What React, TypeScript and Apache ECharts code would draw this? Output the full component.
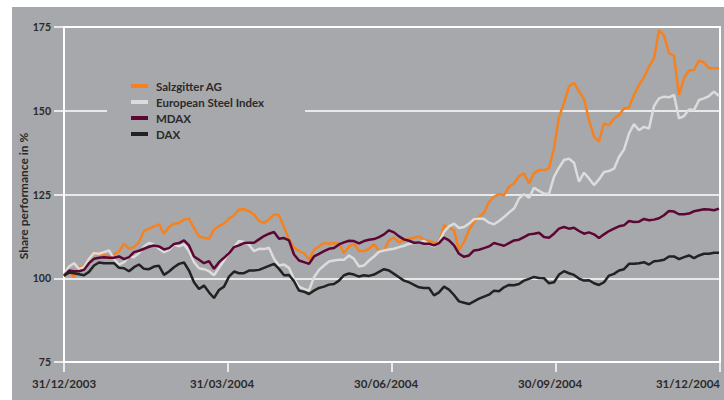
import React, { useEffect, useRef } from "react";
import * as echarts from "echarts";

const seriesNames = ["Salzgitter AG", "European Steel Index", "MDAX", "DAX"];
const tickLabels = ["31/12/2003", "31/03/2004", "30/06/2004", "30/09/2004", "31/12/2004"];
const yTitle = "Share performance in %";

const salzgitter = [
  100.5, 102.3, 100.3, 103.5, 103, 105.8, 107.3, 107.3, 106.9, 106.5,
  107.1, 108, 110.3, 108.8, 109.3, 110.8, 114.1, 114.8, 115.5, 116.1,
  113.3, 115.3, 116.3, 116.5, 117.5, 117.8, 115, 112.5, 112.1, 111.8,
  114.5, 115.6, 116.3, 117.8, 118.8, 120.5, 120.6, 120, 119, 117.1,
  116.5, 117.5, 119.1, 118.8, 115.3, 111.5, 109.1, 108.1, 107.5, 105.5,
  108.5, 109.5, 110.5, 110.3, 110.5, 110.3, 107.5, 109.5, 110.3, 108.1,
  108.1, 108.8, 110.1, 108.3, 108.3, 111.3, 112.1, 110.8, 111.3, 111.8,
  112.1, 112.5, 111.5, 111.1, 110.7, 110.5, 115.8, 115.1, 114.3, 108.5,
  110.8, 114.4, 116.8, 118.3, 119.5, 122.8, 124.3, 125.1, 124.8, 127.3,
  128.3, 130.5, 131.3, 128.3, 131.3, 132.3, 132.3, 132.8, 138.8, 148.1,
  152.3, 157.3, 158.3, 155.8, 153.5, 147.3, 142.3, 140.8, 146.2, 145.7,
  147.7, 148.7, 150.7, 151, 154.7, 157.7, 160, 163.2, 165.7, 174,
  172.5, 167.2, 166.4, 154.7, 159.7, 162, 162.2, 165, 164.4, 162.7,
  162.7, 162.7,
];

const steelIndex = [
  101, 103.5, 104.5, 102.8, 103.3, 105.8, 107.5, 107.3, 107.8, 108.3,
  105.8, 104.1, 104.8, 106.5, 106.3, 107.5, 109.5, 110.5, 110.1, 108.8,
  107.8, 108.5, 110.1, 109.5, 110.1, 108.1, 104.8, 103, 102.7, 102.1,
  100.9, 103.1, 105.3, 107.8, 109.3, 111.1, 110.8, 110, 108.1, 108.8,
  108.7, 109.1, 105.8, 103.8, 104.1, 103.1, 99.8, 97.5, 96.8, 96.3,
  100.3, 102.5, 103.8, 105, 105.3, 105.5, 105.5, 106.8, 105.8, 103.5,
  103.8, 105.3, 106.5, 107.9, 108.3, 108.6, 108.8, 109.3, 109.7, 110.3,
  110.5, 110.7, 111.1, 110.1, 109.5, 110.8, 113.8, 115.5, 116.3, 115,
  115.3, 116.3, 117.6, 117.8, 117.7, 116.6, 116.1, 117.1, 118.3, 119.6,
  120.8, 123.8, 125.1, 124, 127, 126.1, 125.3, 125.2, 130.3, 133,
  135.3, 135.7, 134.5, 128.8, 131.5, 129.8, 127.8, 129.5, 131.7, 132,
  132.7, 136.2, 138.4, 143.2, 146, 144.2, 145.2, 144.7, 151.4, 153.7,
  154.2, 154, 154.7, 147.7, 148.4, 150.4, 150.2, 153.2, 153.7, 154.4,
  155.7, 154.4,
];

const mdax = [
  100.8, 102.3, 102.1, 102.1, 102.5, 104.5, 105.8, 106.1, 106.3, 106.1,
  106.1, 106.5, 105.7, 106.3, 107.8, 108.2, 108.8, 109.4, 109.8, 109.5,
  108.6, 109, 110.2, 110.5, 111.3, 109.8, 106.5, 105.5, 104.5, 105.1,
  102.8, 104.8, 106.1, 107.5, 109.3, 109.8, 110.5, 110.6, 110.6, 111.6,
  112.6, 113.3, 113.8, 111.8, 112, 111.3, 107.1, 105.3, 104.8, 104.3,
  106.5, 107.3, 108.1, 108.8, 109, 110.1, 110.7, 111.2, 111.1, 110.4,
  111.1, 111.5, 111.7, 112.3, 113.1, 114.3, 113.7, 112.5, 111.6, 111.2,
  110.6, 110.7, 110.3, 110.3, 109.8, 110.5, 112.1, 111.3, 109.8, 107.3,
  106.4, 106.8, 108.3, 108.5, 109, 109.5, 110.5, 110.1, 109.7, 110.5,
  111.3, 111.5, 112.3, 113.1, 113.3, 113.6, 112.3, 112.1, 113.3, 114.8,
  115.3, 114.8, 115.1, 114.1, 113.3, 113.7, 113.1, 112, 113.1, 114.1,
  114.8, 115.5, 115.8, 117.1, 116.8, 116.9, 117.7, 117.3, 117.5, 117.9,
  118.8, 120.1, 119.9, 119.1, 119.1, 119.3, 120, 120.3, 120.6, 120.5,
  120.3, 120.8,
];

const dax = [
  100.8, 101.7, 101.5, 101.2, 100.9, 101.9, 103.8, 104.7, 104.5, 104.5,
  104.5, 103.1, 103, 102.1, 103.3, 104.1, 102.8, 102.7, 103.5, 103.7,
  101, 102, 103.3, 104.3, 104.7, 102.3, 98.8, 96.8, 97.8, 95.8,
  94.1, 96.5, 97.5, 100.5, 102, 101.5, 101.5, 102.3, 102.3, 102.5,
  103.1, 103.7, 104.3, 102.8, 100.9, 101, 99.1, 96.3, 96, 95.3,
  96.3, 97.1, 97.5, 98.1, 98.3, 99.3, 100.9, 101.4, 101.1, 100.5,
  100.9, 100.7, 101.1, 101.9, 102.7, 102.3, 101.3, 100.3, 99.3, 98.8,
  98, 97.3, 97.1, 97.1, 94.9, 95.8, 97.5, 96.6, 95, 93.1,
  92.7, 92.3, 93.1, 93.9, 94.5, 95.1, 96.3, 96.1, 97.3, 98,
  97.9, 98.3, 99.3, 99.8, 100.4, 100.1, 100, 98.5, 98.8, 101.1,
  102.1, 101.5, 101, 99.9, 99.3, 99.4, 98.5, 98, 98.8, 100.8,
  101.3, 102.3, 102.7, 104.3, 104.3, 104.5, 104.8, 104.1, 105.1, 105.2,
  105.5, 106.5, 106.5, 105.7, 106.3, 106.8, 106, 106.8, 107.3, 107.3,
  107.6, 107.6,
];

const seriesData = [salzgitter, steelIndex, mdax, dax];
const colors = ["#f5821f", "#dcdcdc", "#5c0634", "#222222"];

const FONT = "Lato";
const TEXT = "#2a2a2a";
const BG = "#a7a8ab";

export default function App() {
  const ref = useRef<HTMLDivElement>(null);
  useEffect(() => {
    if (!ref.current) return;
    const chart = echarts.init(ref.current, null, { renderer: "svg" });
    const xMax = 131.2;
    const step = xMax / (tickLabels.length - 1);
    chart.setOption({
      animation: false,
      backgroundColor: "#ffffff",
      graphic: [
        {
          type: "rect",
          z: -10,
          silent: true,
          shape: { x: 12, y: 7, width: 712, height: 393 },
          style: { fill: BG },
        },
        {
          type: "text",
          silent: true,
          x: 23,
          y: 196,
          rotation: Math.PI / 2,
          style: {
            text: yTitle,
            fontFamily: FONT,
            fontWeight: "bold",
            fontSize: 12,
            fill: TEXT,
            align: "center",
            verticalAlign: "middle",
          },
        },
      ],
      legend: {
        orient: "vertical",
        left: 107,
        top: 69,
        padding: [10, 41, 10, 24],
        backgroundColor: BG,
        itemGap: 2,
        itemWidth: 17,
        itemHeight: 4,
        icon: "rect",
        data: seriesNames,
        textStyle: {
          fontFamily: FONT,
          fontWeight: "bold",
          fontSize: 11.5,
          color: TEXT,
          lineHeight: 14,
          padding: [0, 0, 0, 3],
        },
      },
      grid: {
        left: 64,
        right: 4,
        top: 27,
        bottom: 38,
        show: true,
        borderColor: "#ffffff",
        borderWidth: 2,
        backgroundColor: "transparent",
      },
      xAxis: {
        type: "value",
        min: 0,
        max: xMax,
        interval: step,
        axisLine: { show: true, lineStyle: { color: "#ffffff", width: 2 } },
        axisTick: { show: true, length: 10, lineStyle: { color: "#ffffff", width: 1.5 } },
        splitLine: { show: false },
        axisLabel: {
          margin: 15,
          showMinLabel: true,
          showMaxLabel: true,
          alignMaxLabel: "right",
          formatter: (v: number) => {
            const idx = Math.round(v / step);
            const t = tickLabels[idx] ?? "";
            if (idx === 0 || idx === tickLabels.length - 1) return "{a|" + t + "}";
            return "{b|" + t + "}";
          },
          rich: {
            a: { fontFamily: FONT, fontWeight: "bold", fontSize: 11.5, color: TEXT },
            b: { fontFamily: FONT, fontWeight: "bold", fontSize: 11.5, color: TEXT, padding: [0, 12, 0, 0] },
          },
        },
      },
      yAxis: {
        type: "value",
        min: 75,
        max: 175,
        interval: 25,
        axisLine: { show: true, lineStyle: { color: "#ffffff", width: 2 } },
        axisTick: { show: true, length: 10, lineStyle: { color: "#ffffff", width: 1.5 } },
        splitLine: { show: true, lineStyle: { color: "#ffffff", width: 1.5 } },
        axisLabel: {
          margin: 13,
          fontFamily: FONT,
          fontWeight: "bold",
          fontSize: 10.5,
          color: TEXT,
        },
      },
      series: seriesNames.map((name, si) => ({
        name,
        type: "line",
        showSymbol: false,
        symbol: "none",
        color: colors[si],
        lineStyle: { color: colors[si], width: 2.5 },
        data: seriesData[si].map((v, i) => [i, v]),
      })),
    });
    return () => chart.dispose();
  }, []);
  return (
    <div
      ref={ref}
      style={{ position: "fixed", left: 0, top: 0, width: 724, height: 400 }}
    />
  );
}
